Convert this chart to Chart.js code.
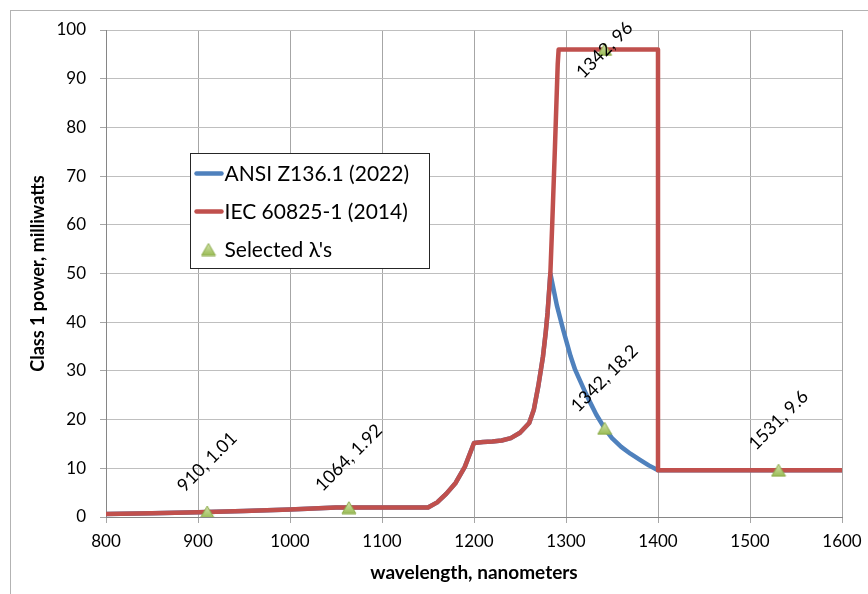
<!DOCTYPE html>
<html>
<head>
<meta charset="utf-8">
<script src="https://cdn.jsdelivr.net/npm/chart.js@4/dist/chart.umd.min.js"></script>
<style>
  html, body { margin: 0; padding: 0; background: #fff; }
  #wrap { width: 868px; height: 594px; }
</style>
</head>
<body>
<div id="wrap"><canvas id="c" width="868" height="594"></canvas></div>
<script>
// ---- data ----
const xTicks = [800, 900, 1000, 1100, 1200, 1300, 1400, 1500, 1600];
const yTicks = [0, 10, 20, 30, 40, 50, 60, 70, 80, 90, 100];

const seriesNames = ['ANSI Z136.1 (2022)', 'IEC 60825-1 (2014)', "Selected \u03bb's"];

const iecWavelength = [800, 850, 900, 950, 1000, 1050, 1100, 1150, 1160, 1170, 1180, 1190, 1200, 1210, 1220, 1230, 1240, 1250, 1260, 1265, 1270, 1275, 1278, 1280, 1283, 1285, 1288, 1291, 1292, 1400, 1400, 1600];
const iecPower      = [0.62, 0.78, 0.98, 1.23, 1.55, 1.95, 1.95, 1.95, 3.0, 4.8, 7.0, 10.3, 15.2, 15.4, 15.5, 15.7, 16.2, 17.3, 19.3, 22, 27, 33, 38, 42, 50, 60, 76, 93, 96, 96, 9.6, 9.6];

const ansiWavelength = [800, 850, 900, 950, 1000, 1050, 1100, 1150, 1160, 1170, 1180, 1190, 1200, 1210, 1220, 1230, 1240, 1250, 1260, 1265, 1270, 1275, 1278, 1280, 1283, 1290, 1297, 1305, 1310, 1320, 1325, 1333, 1342, 1350, 1360, 1370, 1380, 1390, 1400, 1600];
const ansiPower      = [0.62, 0.78, 0.98, 1.23, 1.55, 1.95, 1.95, 1.95, 3.0, 4.8, 7.0, 10.3, 15.2, 15.4, 15.5, 15.7, 16.2, 17.3, 19.3, 22, 27, 33, 38, 42, 50, 43.5, 38.4, 33, 30.2, 26, 24, 21, 18.2, 16.2, 14.4, 13, 11.8, 10.6, 9.6, 9.6];

const selWavelength = [910, 1064, 1342, 1342, 1531];
const selPower      = [1.01, 1.92, 18.2, 96, 9.6];

// ---- helpers ----
const toXY = (xs, ys) => xs.map((x, i) => ({ x: x, y: ys[i] }));
const FONT = 'Lato';

function makeTriangle() {
  const c = document.createElement('canvas');
  c.width = 16; c.height = 14;
  const g = c.getContext('2d');
  const grd = g.createLinearGradient(0, 0, 0, 14);
  grd.addColorStop(0, '#dbe8b8');
  grd.addColorStop(1, '#94b84c');
  g.beginPath();
  g.moveTo(8, 1); g.lineTo(15, 13); g.lineTo(1, 13); g.closePath();
  g.fillStyle = grd; g.fill();
  g.strokeStyle = '#8aaa48'; g.lineWidth = 1; g.stroke();
  return c;
}
const triImg = makeTriangle();

const framePlugin = {
  id: 'frame',
  beforeDraw(chart) {
    const ctx = chart.ctx;
    ctx.save();
    ctx.fillStyle = '#ffffff';
    ctx.fillRect(0, 0, chart.width, chart.height);
    ctx.strokeStyle = '#b3b3b3';
    ctx.lineWidth = 1;
    ctx.strokeRect(10.5, 10.5, chart.width + 20, chart.height + 20);
    ctx.restore();
  }
};

const labelPlugin = {
  id: 'ptlabels',
  afterDatasetsDraw(chart) {
    const ctx = chart.ctx;
    const meta = chart.getDatasetMeta(0);
    ctx.save();
    ctx.font = '18px ' + FONT;
    ctx.fillStyle = '#000';
    ctx.textAlign = 'center';
    ctx.textBaseline = 'middle';
    meta.data.forEach((el, i) => {
      const text = selWavelength[i] + ', ' + selPower[i];
      const cx = el.x;
      const cy = Math.max(el.y - 50, 50);
      ctx.save();
      ctx.translate(cx, cy);
      ctx.rotate(-Math.PI / 4);
      ctx.fillText(text, 0, 0);
      ctx.restore();
    });
    ctx.restore();
  }
};

const legendPlugin = {
  id: 'boxlegend',
  afterDraw(chart) {
    const ctx = chart.ctx;
    const a = chart.chartArea;
    const L = a.left + 84.5, T = a.top + 123.5, W = 239, H = 115;
    ctx.save();
    ctx.fillStyle = '#fff';
    ctx.fillRect(L, T, W, H);
    ctx.strokeStyle = '#262626';
    ctx.lineWidth = 1;
    ctx.strokeRect(L, T, W, H);
    ctx.font = '21px ' + FONT;
    ctx.fillStyle = '#000';
    ctx.textBaseline = 'middle';
    ctx.textAlign = 'left';
    const rows = [T + 20, T + 58, T + 96];
    const colors = ['#4f81bd', '#c0504d'];
    for (let i = 0; i < 2; i++) {
      ctx.strokeStyle = colors[i];
      ctx.lineWidth = 4.5;
      ctx.lineCap = 'round';
      ctx.beginPath();
      ctx.moveTo(L + 6, rows[i]);
      ctx.lineTo(L + 31, rows[i]);
      ctx.stroke();
    }
    ctx.drawImage(triImg, L + 10, rows[2] - 7);
    for (let i = 0; i < 3; i++) {
      ctx.fillText(seriesNames[i], L + 34, rows[i] + 1);
    }
    ctx.restore();
  }
};

new Chart(document.getElementById('c'), {
  type: 'scatter',
  data: {
    datasets: [
      {
        label: seriesNames[2],
        data: toXY(selWavelength, selPower),
        showLine: false,
        pointStyle: triImg,
        pointRadius: 8,
        pointHoverRadius: 8
      },
      {
        label: seriesNames[1],
        data: toXY(iecWavelength, iecPower),
        showLine: true,
        borderColor: '#c0504d',
        backgroundColor: '#c0504d',
        borderWidth: 4.5,
        borderJoinStyle: 'round',
        pointRadius: 0,
        tension: 0
      },
      {
        label: seriesNames[0],
        data: toXY(ansiWavelength, ansiPower),
        showLine: true,
        borderColor: '#4f81bd',
        backgroundColor: '#4f81bd',
        borderWidth: 4.5,
        borderJoinStyle: 'round',
        pointRadius: 0,
        tension: 0
      }
    ]
  },
  options: {
    responsive: false,
    animation: false,
    devicePixelRatio: 1,
    layout: { padding: { top: 30, right: 26, bottom: 0, left: 0 } },
    plugins: { legend: { display: false }, tooltip: { enabled: false } },
    scales: {
      x: {
        type: 'linear',
        min: xTicks[0], max: xTicks[xTicks.length - 1],
        afterBuildTicks(s) { s.ticks = xTicks.map(v => ({ value: v })); },
        afterFit(s) { s.height = 77; s.paddingLeft = 0; s.paddingRight = 0; },
        ticks: { color: '#000', font: { family: FONT, size: 17 }, padding: 8, maxRotation: 0,
                 callback: v => String(v) },
        grid: { color: '#a6a6a6', tickLength: 6, tickColor: '#a6a6a6' },
        border: { color: '#868686', width: 1 },
        title: { display: true, text: 'wavelength, nanometers', color: '#000',
                 font: { family: FONT, size: 19, weight: 'bold' }, padding: { top: 0, bottom: 10 } }
      },
      y: {
        type: 'linear',
        min: yTicks[0], max: yTicks[yTicks.length - 1],
        afterBuildTicks(s) { s.ticks = yTicks.map(v => ({ value: v })); },
        afterFit(s) { s.width = 106; },
        ticks: { color: '#000', font: { family: FONT, size: 17 }, padding: 14,
                 callback: v => String(v) },
        grid: { color: '#bfbfbf', tickLength: 6, tickColor: '#a6a6a6' },
        border: { color: '#868686', width: 1 },
        title: { display: true, text: 'Class 1 power, milliwatts', color: '#000',
                 font: { family: FONT, size: 18, weight: 'bold' }, padding: { top: 27, bottom: 0 } }
      }
    }
  },
  plugins: [framePlugin, labelPlugin, legendPlugin]
});
</script>
</body>
</html>
